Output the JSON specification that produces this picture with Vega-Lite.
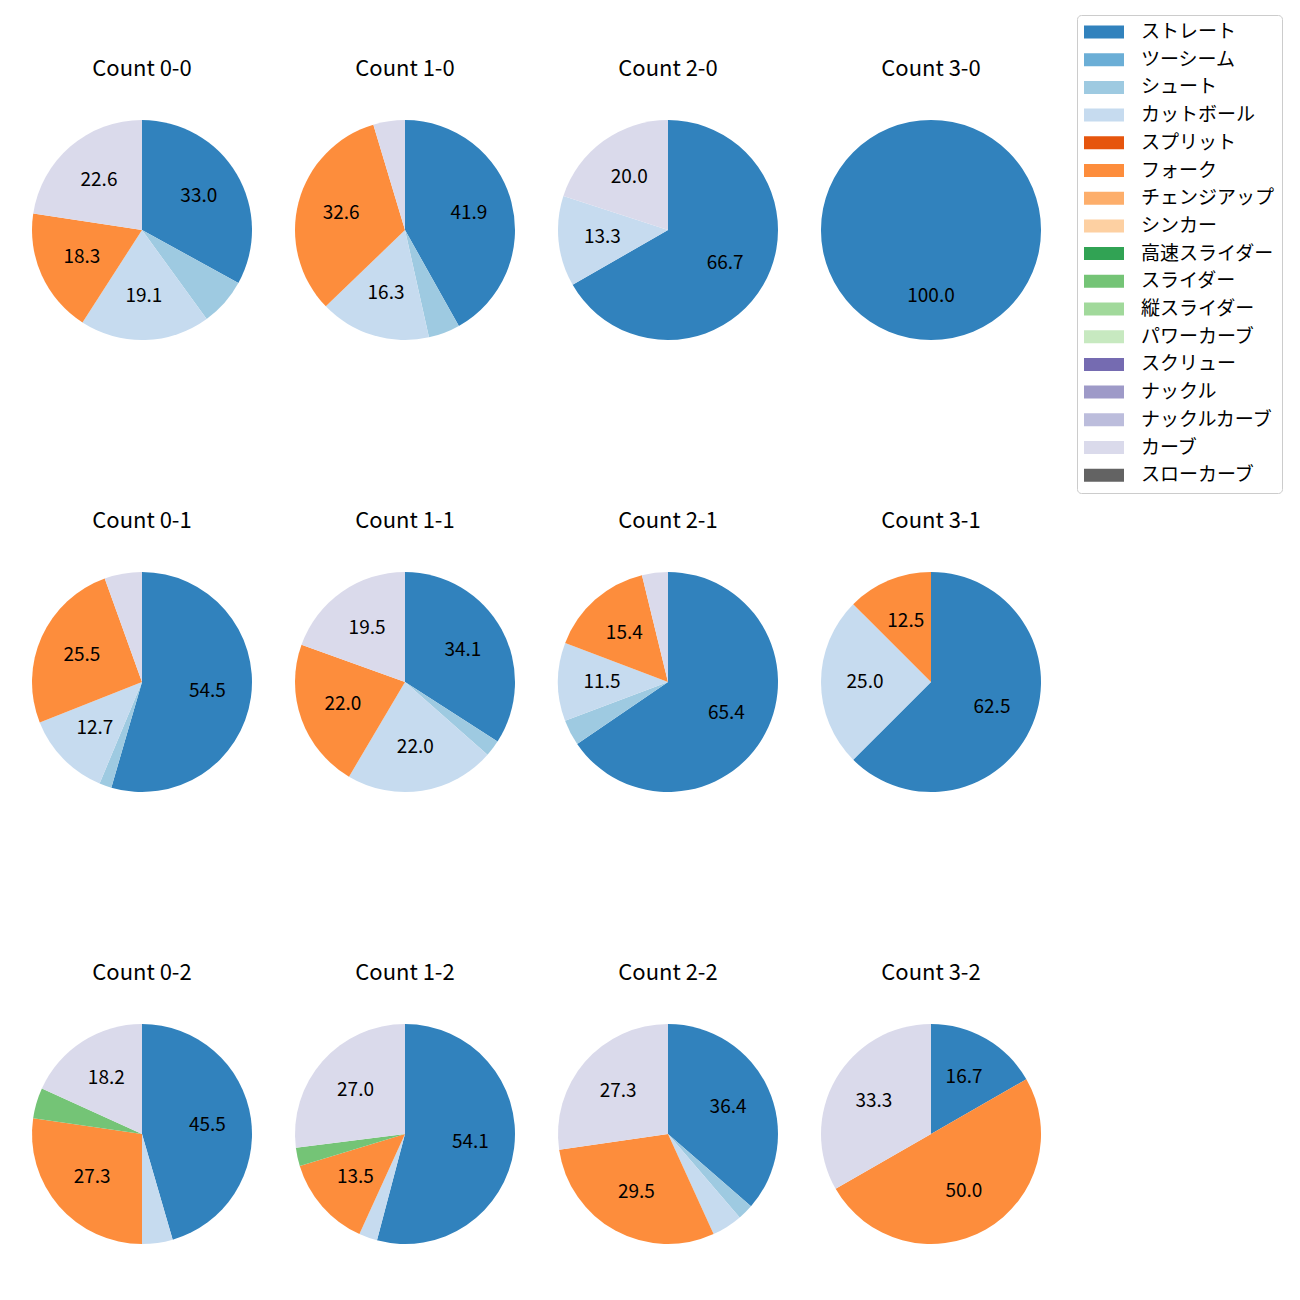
{
  "$schema": "https://vega.github.io/schema/vega-lite/v6.json",
  "background": "white",
  "padding": {"left": 32, "top": 14, "right": 5, "bottom": 5},
  "config": {
    "font": "Noto Sans CJK JP",
    "view": {"stroke": null},
    "facet": {"spacing": {"column": 43, "row": 170}}
  },
  "data": {"values": [
    {"c": "Count 0-0", "p": "ストレート", "v": 33.0, "o": 0},
    {"c": "Count 0-0", "p": "シュート", "v": 7.0, "o": 2},
    {"c": "Count 0-0", "p": "カットボール", "v": 19.1, "o": 3},
    {"c": "Count 0-0", "p": "フォーク", "v": 18.3, "o": 5},
    {"c": "Count 0-0", "p": "カーブ", "v": 22.6, "o": 15},
    {"c": "Count 1-0", "p": "ストレート", "v": 41.9, "o": 0},
    {"c": "Count 1-0", "p": "シュート", "v": 4.65, "o": 2},
    {"c": "Count 1-0", "p": "カットボール", "v": 16.3, "o": 3},
    {"c": "Count 1-0", "p": "フォーク", "v": 32.6, "o": 5},
    {"c": "Count 1-0", "p": "カーブ", "v": 4.65, "o": 15},
    {"c": "Count 2-0", "p": "ストレート", "v": 66.7, "o": 0},
    {"c": "Count 2-0", "p": "カットボール", "v": 13.3, "o": 3},
    {"c": "Count 2-0", "p": "カーブ", "v": 20.0, "o": 15},
    {"c": "Count 3-0", "p": "ストレート", "v": 100.0, "o": 0},
    {"c": "Count 0-1", "p": "ストレート", "v": 54.5, "o": 0},
    {"c": "Count 0-1", "p": "シュート", "v": 1.8, "o": 2},
    {"c": "Count 0-1", "p": "カットボール", "v": 12.7, "o": 3},
    {"c": "Count 0-1", "p": "フォーク", "v": 25.5, "o": 5},
    {"c": "Count 0-1", "p": "カーブ", "v": 5.5, "o": 15},
    {"c": "Count 1-1", "p": "ストレート", "v": 34.1, "o": 0},
    {"c": "Count 1-1", "p": "シュート", "v": 2.4, "o": 2},
    {"c": "Count 1-1", "p": "カットボール", "v": 22.0, "o": 3},
    {"c": "Count 1-1", "p": "フォーク", "v": 22.0, "o": 5},
    {"c": "Count 1-1", "p": "カーブ", "v": 19.5, "o": 15},
    {"c": "Count 2-1", "p": "ストレート", "v": 65.4, "o": 0},
    {"c": "Count 2-1", "p": "シュート", "v": 3.8, "o": 2},
    {"c": "Count 2-1", "p": "カットボール", "v": 11.5, "o": 3},
    {"c": "Count 2-1", "p": "フォーク", "v": 15.4, "o": 5},
    {"c": "Count 2-1", "p": "カーブ", "v": 3.8, "o": 15},
    {"c": "Count 3-1", "p": "ストレート", "v": 62.5, "o": 0},
    {"c": "Count 3-1", "p": "カットボール", "v": 25.0, "o": 3},
    {"c": "Count 3-1", "p": "フォーク", "v": 12.5, "o": 5},
    {"c": "Count 0-2", "p": "ストレート", "v": 45.5, "o": 0},
    {"c": "Count 0-2", "p": "カットボール", "v": 4.5, "o": 3},
    {"c": "Count 0-2", "p": "フォーク", "v": 27.3, "o": 5},
    {"c": "Count 0-2", "p": "スライダー", "v": 4.5, "o": 9},
    {"c": "Count 0-2", "p": "カーブ", "v": 18.2, "o": 15},
    {"c": "Count 1-2", "p": "ストレート", "v": 54.1, "o": 0},
    {"c": "Count 1-2", "p": "カットボール", "v": 2.7, "o": 3},
    {"c": "Count 1-2", "p": "フォーク", "v": 13.5, "o": 5},
    {"c": "Count 1-2", "p": "スライダー", "v": 2.7, "o": 9},
    {"c": "Count 1-2", "p": "カーブ", "v": 27.0, "o": 15},
    {"c": "Count 2-2", "p": "ストレート", "v": 36.4, "o": 0},
    {"c": "Count 2-2", "p": "シュート", "v": 2.3, "o": 2},
    {"c": "Count 2-2", "p": "カットボール", "v": 4.5, "o": 3},
    {"c": "Count 2-2", "p": "フォーク", "v": 29.5, "o": 5},
    {"c": "Count 2-2", "p": "カーブ", "v": 27.3, "o": 15},
    {"c": "Count 3-2", "p": "ストレート", "v": 16.7, "o": 0},
    {"c": "Count 3-2", "p": "フォーク", "v": 50.0, "o": 5},
    {"c": "Count 3-2", "p": "カーブ", "v": 33.3, "o": 15}
  ]},
  "facet": {
    "field": "c", "type": "nominal",
    "sort": ["Count 0-0","Count 1-0","Count 2-0","Count 3-0","Count 0-1","Count 1-1","Count 2-1","Count 3-1","Count 0-2","Count 1-2","Count 2-2","Count 3-2"],
    "header": {"title": null, "labelFontSize": 22, "labelColor": "black", "labelPadding": 17, "labelBaseline": "bottom", "labelFont": "Noto Sans CJK JP"}
  },
  "columns": 4,
  "spec": {
    "width": 220,
    "height": 220,
    "encoding": {
      "theta": {"field": "v", "type": "quantitative", "stack": true},
      "order": {"field": "o", "type": "quantitative", "sort": "ascending"}
    },
    "layer": [
      {
        "mark": {"type": "arc", "outerRadius": 110},
        "encoding": {
          "color": {
            "field": "p", "type": "nominal",
            "scale": {
              "domain": ["ストレート","ツーシーム","シュート","カットボール","スプリット","フォーク","チェンジアップ","シンカー","高速スライダー","スライダー","縦スライダー","パワーカーブ","スクリュー","ナックル","ナックルカーブ","カーブ","スローカーブ"],
              "range": ["#3182bd","#6baed6","#9ecae1","#c6dbef","#e6550d","#fd8d3c","#fdae6b","#fdd0a2","#31a354","#74c476","#a1d99b","#c7e9c0","#756bb1","#9e9ac8","#bcbddc","#dadaeb","#636363"]
            },
            "legend": {
              "title": null,
              "orient": "none",
              "legendX": 1045,
              "legendY": -105,
              "symbolType": "M-1,-0.65L3,-0.65L3,0.65L-1,0.65Z",
              "symbolSize": 400,
              "symbolStrokeWidth": 0,
              "labelFontSize": 19,
              "labelFont": "Noto Sans CJK JP",
              "labelColor": "black",
              "labelOffset": 37,
              "rowPadding": 7.7,
              "padding": 7,
              "strokeColor": "#cccccc",
              "fillColor": "white",
              "cornerRadius": 4,
              "labelLimit": 300
            }
          }
        }
      },
      {
        "mark": {"type": "text", "radius": 66, "fontSize": 19, "font": "Noto Sans CJK JP", "color": "black"},
        "encoding": {
          "text": {"condition": {"test": "datum.v >= 10", "field": "v", "type": "quantitative", "format": ".1f"}, "value": ""}
        }
      }
    ]
  }
}
